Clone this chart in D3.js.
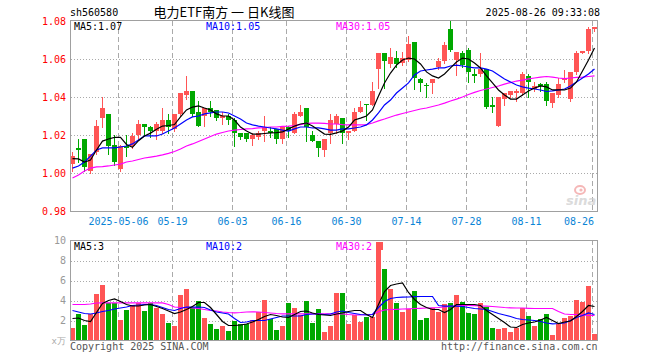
<!DOCTYPE html>
<html><head><meta charset="utf-8">
<script src="https://cdn.jsdelivr.net/npm/d3@7"></script>
<style>
body{margin:0;background:#fff}
svg{display:block}
text{font-family:'DejaVu Sans Mono',monospace;font-size:10px}
</style>
</head><body>
<svg id="c" width="660" height="360"></svg>
<script>
// ---------- data ----------
const dateLabels = ['2025-05-06','05-19','06-03','06-16','06-30','07-14','07-28','08-11','08-26'];
const dateIndex  = [8,17,27,36,46,56,66,76,87];
const priceTicks = [0.98,1.00,1.02,1.04,1.06,1.08];
const volTicks   = [2,4,6,8,10];

const open = [1.005,1.013,1.018,1.001,1.011,1.029,1.031,1.015,1.002,1.014,
1.014,1.020,1.026,1.024,1.022,1.022,1.028,1.023,1.031,1.041,
1.043,1.032,1.030,1.034,1.033,1.029,1.030,1.028,1.021,1.021,
1.018,1.019,1.022,1.022,1.023,1.018,1.024,1.021,1.030,1.034,
1.020,1.017,1.012,1.021,1.026,1.029,1.021,1.022,1.032,1.0365,
1.036,1.055,1.063,1.0575,1.0605,1.058,1.0596,1.069,1.0496,1.0465,
1.0474,1.0558,1.0588,1.0758,1.0596,1.0632,1.065,1.052,1.052,1.055,
1.036,1.025,1.039,1.041,1.042,1.042,1.051,1.044,1.047,1.047,
1.037,1.041,1.049,1.039,1.053,1.063,1.064,1.076];
const high = [1.011,1.018,1.018,1.010,1.028,1.040,1.031,1.020,1.015,1.020,
1.021,1.028,1.026,1.025,1.027,1.034,1.031,1.031,1.042,1.051,
1.043,1.038,1.034,1.038,1.033,1.032,1.031,1.029,1.021,1.021,
1.021,1.022,1.030,1.024,1.023,1.025,1.025,1.032,1.036,1.034,
1.022,1.017,1.018,1.031,1.031,1.029,1.022,1.034,1.038,1.0365,
1.048,1.063,1.063,1.066,1.064,1.0635,1.072,1.069,1.050,1.0474,
1.0495,1.0605,1.069,1.080,1.0635,1.064,1.066,1.055,1.063,1.055,
1.040,1.040,1.042,1.043,1.044,1.053,1.052,1.048,1.0475,1.048,
1.042,1.050,1.054,1.053,1.064,1.064,1.077,1.077];
const low = [1.001,1.006,1.001,1.000,1.010,1.024,1.010,1.004,1.001,1.009,
1.013,1.018,1.020,1.019,1.018,1.021,1.021,1.022,1.030,1.039,
1.030,1.025,1.025,1.030,1.028,1.026,1.026,1.014,1.018,1.017,
1.015,1.018,1.017,1.019,1.016,1.016,1.019,1.021,1.030,1.017,
1.017,1.009,1.009,1.016,1.021,1.016,1.018,1.022,1.032,1.028,
1.036,1.045,1.045,1.056,1.056,1.057,1.059,1.044,1.043,1.040,
1.042,1.055,1.058,1.064,1.0517,1.056,1.048,1.048,1.051,1.034,
1.032,1.025,1.036,1.040,1.038,1.041,1.040,1.043,1.043,1.036,
1.035,1.040,1.048,1.038,1.052,1.063,1.063,1.075];
const close = [1.009,1.012,1.003,1.010,1.025,1.034,1.014,1.006,1.014,1.013,
1.0195,1.026,1.024,1.022,1.026,1.028,1.024,1.031,1.042,1.043,
1.031,1.025,1.034,1.032,1.029,1.030,1.028,1.021,1.019,1.018,
1.020,1.021,1.024,1.021,1.018,1.024,1.022,1.031,1.032,1.024,
1.017,1.013,1.018,1.028,1.030,1.021,1.022,1.032,1.035,1.036,
1.043,1.063,1.059,1.061,1.0575,1.0605,1.068,1.050,1.0475,1.046,
1.0495,1.0588,1.0675,1.0646,1.0635,1.057,1.053,1.051,1.055,1.035,
1.035,1.040,1.042,1.043,1.043,1.052,1.048,1.046,1.046,1.038,
1.042,1.047,1.050,1.053,1.063,1.064,1.076,1.077];
const volume = [1.27,2.7,1.6,2.7,4.7,5.6,3.8,3.8,2.1,3.1,
3.6,3.8,3.0,3.8,3.3,2.7,1.8,1.5,4.6,5.2,
3.3,4.0,2.3,1.7,1.2,1.5,1.0,2.0,1.7,1.7,
2.1,2.9,4.1,2.2,1.1,1.5,3.8,3.3,2.6,4.0,
1.8,3.2,0.9,1.5,4.8,4.8,1.7,2.6,1.9,2.4,
2.4,9.9,7.2,5.2,3.8,2.9,3.2,5.0,2.1,2.3,
3.3,2.9,3.7,3.8,4.6,3.9,2.8,2.7,3.8,3.4,
1.3,1.2,1.3,0.9,1.3,3.3,2.5,1.5,2.2,2.7,
0.5,1.7,2.3,2.5,4.1,3.9,5.5,0.7];
const ma5 = [1.0076,1.0074,1.0058,1.0068,1.0121,1.0168,1.0179,1.0187,1.0187,1.015,
1.0135,1.017,1.0195,1.021,1.023,1.0247,1.025,1.0255,1.0295,1.0332,
1.0347,1.0353,1.0342,1.0332,1.0311,1.030,1.030,1.0279,1.0242,1.0221,
1.0205,1.0205,1.0208,1.0211,1.0213,1.0216,1.0232,1.0247,1.0258,1.0263,
1.0247,1.0226,1.0205,1.0203,1.0211,1.0221,1.0242,1.0279,1.0289,1.030,
1.0332,1.0405,1.0474,1.0526,1.0568,1.0595,1.0605,1.060,1.0574,1.0532,
1.0511,1.050,1.0521,1.0553,1.0584,1.0605,1.060,1.0579,1.0553,1.0511,
1.0474,1.0437,1.0411,1.0389,1.0389,1.0411,1.0432,1.0447,1.0458,1.0453,
1.0437,1.0437,1.0437,1.0447,1.0479,1.0537,1.0595,1.0658];
const ma10 = [1.0026,1.0037,1.0058,1.0089,1.0121,1.0132,1.0132,1.0132,1.0137,1.0142,
1.0153,1.0174,1.0195,1.0195,1.0195,1.0205,1.0221,1.0237,1.0258,1.0279,
1.0295,1.030,1.0311,1.0316,1.0321,1.0321,1.0316,1.030,1.0284,1.0263,
1.0253,1.0247,1.0242,1.0237,1.0232,1.0226,1.0221,1.0232,1.0242,1.0242,
1.0237,1.0237,1.0232,1.0226,1.0226,1.0232,1.0232,1.0237,1.0242,1.0253,
1.0279,1.0316,1.0358,1.0384,1.0421,1.0447,1.0474,1.0516,1.0537,1.0542,
1.0547,1.0553,1.0553,1.0563,1.0568,1.0563,1.0558,1.0553,1.0553,1.0547,
1.0537,1.0516,1.0495,1.0479,1.0463,1.0453,1.0447,1.0442,1.0437,1.0429,
1.0432,1.0437,1.0442,1.0458,1.0479,1.050,1.0521,1.0547];
const ma30 = [0.9974,0.9989,1.0011,1.0026,1.0032,1.0034,1.0037,1.0042,1.0047,1.0058,
1.0063,1.0071,1.0079,1.0084,1.0089,1.0095,1.0103,1.0113,1.0126,1.0142,
1.0153,1.0166,1.0179,1.0192,1.0205,1.0213,1.0221,1.0226,1.0229,1.0232,
1.0234,1.0237,1.0239,1.0242,1.0242,1.0245,1.0247,1.025,1.0255,1.0261,
1.0263,1.0263,1.0261,1.0258,1.0258,1.0255,1.0253,1.0253,1.0253,1.0255,
1.0263,1.0274,1.0284,1.0295,1.0305,1.0313,1.0321,1.0329,1.0337,1.0342,
1.035,1.0358,1.0368,1.0379,1.0389,1.040,1.0413,1.0424,1.0434,1.0442,
1.045,1.0458,1.0468,1.0476,1.0484,1.0489,1.0495,1.050,1.0505,1.0508,
1.0505,1.050,1.0497,1.050,1.0503,1.0505,1.0508,1.0511];
const vma5 = [2.2,2.25,2.0,1.9,2.8,3.7,4.0,4.15,3.9,3.6,
3.45,3.45,3.55,3.6,3.4,3.2,2.95,2.7,2.85,3.1,
3.4,3.8,3.8,3.3,2.6,1.9,1.5,1.5,1.55,1.65,
1.85,2.1,2.4,2.6,2.5,2.35,2.3,2.6,2.9,2.95,
2.75,2.6,2.55,2.5,2.65,2.75,2.9,3.0,3.0,2.6,
2.3,3.6,4.9,5.5,5.65,5.75,4.8,4.1,3.6,3.3,
3.1,3.1,2.8,3.1,3.6,3.6,3.6,3.6,3.5,3.0,
2.6,2.2,1.8,1.35,1.3,1.6,1.75,1.85,2.05,2.3,
2.0,1.7,1.85,1.95,2.4,2.9,3.5,3.4];
const vma10 = [3.0,2.85,2.7,2.65,2.75,2.9,3.0,3.15,3.25,3.35,
3.5,3.55,3.6,3.6,3.5,3.3,3.1,3.0,3.2,3.35,
3.33,3.35,3.3,3.05,2.85,2.75,2.65,2.2,1.8,1.85,
2.0,2.0,2.0,2.15,2.3,2.45,2.45,2.45,2.45,2.6,
2.65,2.65,2.6,2.65,2.85,2.95,2.8,2.7,2.6,2.55,
2.6,3.3,3.9,4.2,4.3,4.33,4.35,4.38,4.4,4.4,
4.4,3.5,3.43,3.43,3.43,3.4,3.3,3.2,3.15,3.1,
2.9,2.7,2.55,2.4,2.2,2.1,2.05,2.0,1.9,1.75,
1.67,1.7,1.75,2.0,2.3,2.5,2.75,2.6];
const vma30 = [3.6,3.6,3.6,3.65,3.75,3.77,3.77,3.77,3.77,3.77,
3.77,3.77,3.77,3.77,3.77,3.77,3.6,3.35,3.3,3.3,
3.27,3.2,3.1,3.0,2.95,2.85,2.8,2.77,2.8,2.85,
2.87,2.85,2.8,2.75,2.7,2.67,2.67,2.67,2.67,2.67,
2.67,2.67,2.67,2.67,2.67,2.67,2.6,2.55,2.55,2.6,
2.6,2.87,3.05,3.1,3.12,3.15,3.17,3.2,3.22,3.25,
3.27,3.3,3.35,3.4,3.45,3.5,3.5,3.48,3.45,3.43,
3.4,3.35,3.3,3.27,3.25,3.25,3.22,3.2,3.2,3.2,
3.2,2.9,2.65,2.6,2.6,2.55,2.5,2.5];

// ---------- drawing ----------
const svg = d3.select('#c');
const n = close.length;
const idx = d3.range(n);
const RED = '#ff5555', GREEN = '#00a800', GRID = '#aaaaaa', FRAME = '#a0a0a0';

const x = d3.scaleBand().domain(idx).range([70, 597.4]).paddingInner(1/6).paddingOuter(0).align(0);
const left = i => Math.round(x(i));
const y = d3.scaleLinear().domain([0.98, 1.08]).range([211, 21]);
const yv = d3.scaleLinear().domain([0, 10]).range([340.5, 240.5]);
const colorOf = i => close[i] >= open[i] ? RED : GREEN;

// header
svg.append('text').attr('x', 70).attr('y', 16).attr('fill', '#000').text('sh560580');
svg.append('text').attr('x', 224).attr('y', 17).attr('text-anchor', 'middle')
  .style('font-family', "'Noto Sans CJK SC',sans-serif").style('font-size', '13px')
  .attr('fill', '#000').text('电力ETF南方 一 日K线图');
svg.append('text').attr('x', 600).attr('y', 16).attr('text-anchor', 'end').attr('fill', '#000').text('2025-08-26 09:33:08');

// ----- main panel grid -----
const gMain = svg.append('g');
gMain.selectAll('line.hg').data(priceTicks.filter(t => t > 0.98 && t < 1.08)).join('line')
  .attr('x1', 71).attr('x2', 597).attr('y1', d => Math.round(y(d)) + 0.5).attr('y2', d => Math.round(y(d)) + 0.5)
  .attr('stroke', GRID).attr('stroke-dasharray', '1,2');
gMain.selectAll('line.vg').data(dateIndex).join('line')
  .attr('x1', d => left(d) + 0.5).attr('x2', d => left(d) + 0.5)
  .attr('y1', 21).attr('y2', 211)
  .attr('stroke', GRID).attr('stroke-dasharray', '5,3');

// price labels
svg.selectAll('text.py').data(priceTicks).join('text')
  .attr('x', 66).attr('y', d => y(d) + 3.5).attr('text-anchor', 'end')
  .attr('fill', '#ff0000').text(d => d.toFixed(2));

// sina logo
const logo = svg.append('g').attr('opacity', 0.75);
logo.append('ellipse').attr('cx', 580).attr('cy', 190).attr('rx', 5).attr('ry', 4)
  .attr('fill', 'none').attr('stroke', '#f2a0a0').attr('stroke-width', 2);
logo.append('circle').attr('cx', 581).attr('cy', 190).attr('r', 1.6).attr('fill', '#f2a0a0');
logo.append('text').attr('x', 566).attr('y', 205).style('font-family', 'Verdana,DejaVu Sans,sans-serif')
  .style('font-size', '13px').style('font-style', 'italic').style('font-weight', 'bold')
  .attr('fill', '#cfcfcf').text('sina');

// candles
const gC = svg.append('g').attr('shape-rendering', 'crispEdges');
gC.selectAll('line.wick').data(idx).join('line')
  .attr('x1', i => left(i) + 2.5).attr('x2', i => left(i) + 2.5)
  .attr('y1', i => Math.round(y(high[i]))).attr('y2', i => Math.round(y(low[i])) + 1)
  .attr('stroke', colorOf);
gC.selectAll('rect.body').data(idx).join('rect')
  .attr('x', left).attr('width', 5)
  .attr('y', i => Math.round(y(Math.max(open[i], close[i]))))
  .attr('height', i => Math.max(1, Math.round(y(Math.min(open[i], close[i]))) - Math.round(y(Math.max(open[i], close[i])))))
  .attr('fill', colorOf);

// MA lines
const line = d3.line().x((d, i) => left(i) + 2.5);
const priceLine = line.y(d => y(d));
[[ma30, '#ff00ff'], [ma10, '#0000ff'], [ma5, '#000000']].forEach(([arr, col]) => {
  svg.append('path').datum(arr).attr('d', d3.line().x((d, i) => left(i) + 2.5).y(d => y(d)))
    .attr('fill', 'none').attr('stroke', col).attr('stroke-width', 1.2);
});

// main frame
svg.append('rect').attr('x', 70.5).attr('y', 20.5).attr('width', 527).attr('height', 190.5)
  .attr('fill', 'none').attr('stroke', FRAME).attr('shape-rendering', 'crispEdges');

// main legend
svg.append('text').attr('x', 74).attr('y', 30).attr('fill', '#000').text('MA5:1.07');
svg.append('text').attr('x', 206).attr('y', 30).attr('fill', '#0000ff').text('MA10:1.05');
svg.append('text').attr('x', 336).attr('y', 30).attr('fill', '#ff00ff').text('MA30:1.05');

// date labels
svg.selectAll('text.dl').data(dateIndex).join('text')
  .attr('x', (d, k) => k === dateIndex.length - 1 ? 594 : left(d) + 0.5)
  .attr('y', 225)
  .attr('text-anchor', (d, k) => k === dateIndex.length - 1 ? 'end' : 'middle')
  .attr('fill', '#0a84d6').text((d, k) => dateLabels[k]);

// ----- volume panel -----
const gV = svg.append('g');
gV.selectAll('line.vhg').data(volTicks.filter(t => t < 10)).join('line')
  .attr('x1', 71).attr('x2', 597).attr('y1', d => Math.round(yv(d)) + 0.5).attr('y2', d => Math.round(yv(d)) + 0.5)
  .attr('stroke', GRID).attr('stroke-dasharray', '1,2');
gV.selectAll('line.vvg').data(dateIndex).join('line')
  .attr('x1', d => left(d) + 0.5).attr('x2', d => left(d) + 0.5)
  .attr('y1', 240).attr('y2', 341)
  .attr('stroke', GRID).attr('stroke-dasharray', '5,3');

svg.selectAll('text.vy').data(volTicks).join('text')
  .attr('x', 66).attr('y', d => yv(d) + 3.5).attr('text-anchor', 'end')
  .attr('fill', '#999').text(d => d);
svg.append('text').attr('x', 66).attr('y', 344).attr('text-anchor', 'end').attr('fill', '#aaa')
  .style('font-size', '9px').text('x万');

svg.append('g').attr('shape-rendering', 'crispEdges').selectAll('rect').data(idx).join('rect')
  .attr('x', left).attr('width', 5)
  .attr('y', i => Math.round(yv(volume[i])))
  .attr('height', i => Math.round(yv(0)) - Math.round(yv(volume[i])))
  .attr('fill', colorOf);

[[vma30, '#ff00ff'], [vma10, '#0000ff'], [vma5, '#000000']].forEach(([arr, col]) => {
  svg.append('path').datum(arr).attr('d', d3.line().x((d, i) => left(i) + 2.5).y(d => yv(d)))
    .attr('fill', 'none').attr('stroke', col).attr('stroke-width', 1.2);
});

svg.append('rect').attr('x', 70.5).attr('y', 240.5).attr('width', 527).attr('height', 100)
  .attr('fill', 'none').attr('stroke', FRAME).attr('shape-rendering', 'crispEdges');

svg.append('text').attr('x', 74).attr('y', 250).attr('fill', '#000').text('MA5:3');
svg.append('text').attr('x', 206).attr('y', 250).attr('fill', '#0000ff').text('MA10:2');
svg.append('text').attr('x', 336).attr('y', 250).attr('fill', '#ff00ff').text('MA30:2');
svg.append('rect').attr('x', 378).attr('y', 242).attr('width', 5).attr('height', 8).attr('fill', RED);

// footer
svg.append('text').attr('x', 70).attr('y', 350).attr('fill', '#555').text('Copyright 2025 SINA.COM');
svg.append('text').attr('x', 597.5).attr('y', 350).attr('text-anchor', 'end').attr('fill', '#555').text('http://finance.sina.com.cn');
</script>
</body></html>
